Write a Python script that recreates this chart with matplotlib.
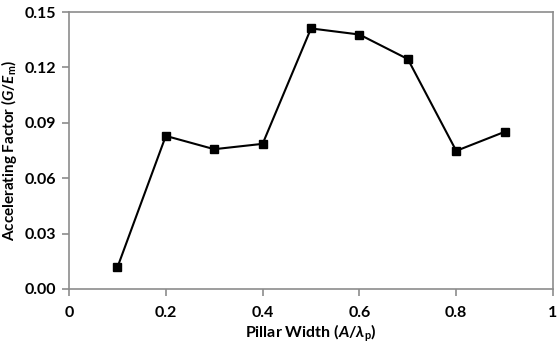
import matplotlib
matplotlib.use("Agg")
import matplotlib.pyplot as plt

# Pillar width (A / lambda_p) and accelerating factor (G / E_m)
pillar_width = [0.1, 0.2, 0.3, 0.4, 0.5, 0.6, 0.7, 0.8, 0.9]
accel_factor = [0.0117, 0.0829, 0.0757, 0.0786, 0.1411, 0.1378, 0.1245, 0.0748, 0.0851]

x_ticks = [0, 0.2, 0.4, 0.6, 0.8, 1.0]
x_tick_labels = ["0", "0.2", "0.4", "0.6", "0.8", "1"]
y_ticks = [0.00, 0.03, 0.06, 0.09, 0.12, 0.15]
y_tick_labels = ["0.00", "0.03", "0.06", "0.09", "0.12", "0.15"]

plt.rcParams["font.family"] = ["Lato", "DejaVu Sans"]
plt.rcParams["font.weight"] = "bold"
plt.rcParams["mathtext.fontset"] = "custom"
plt.rcParams["mathtext.rm"] = "Lato:bold"
plt.rcParams["mathtext.it"] = "Lato:italic:bold"
plt.rcParams["mathtext.bf"] = "Lato:bold"

fig = plt.figure(figsize=(5.57, 3.49), dpi=100)
ax = fig.add_axes([0.1239, 0.172, 0.869, 0.7936])

ax.plot(pillar_width, accel_factor, color="black", lw=1.5,
        marker="s", markersize=6.3, markerfacecolor="black", markeredgecolor="black")

ax.set_xlim(0, 1)
ax.set_ylim(0, 0.15)
ax.set_xticks(x_ticks)
ax.set_xticklabels(x_tick_labels)
ax.set_yticks(y_ticks)
ax.set_yticklabels(y_tick_labels)

gray = "#8c8c8c"
for s in ax.spines.values():
    s.set_color(gray)
    s.set_linewidth(1.2)
ax.tick_params(axis="both", direction="out", length=5, width=1.2, color=gray,
               labelsize=11.5, labelcolor="black")
ax.tick_params(axis="y", pad=4)
ax.tick_params(axis="x", pad=7)
for lbl in ax.get_xticklabels() + ax.get_yticklabels():
    lbl.set_fontweight("bold")

ax.set_xlabel(r"Pillar Width ($\mathit{A}$/$\lambda_{\rm p}$)", fontsize=11.5,
              fontweight="bold", labelpad=2)
ax.set_ylabel(r"Accelerating Factor ($\mathit{G}$/$\mathit{E}_{\rm m}$)", fontsize=11,
              fontweight="bold", labelpad=4)

fig.savefig("out.png", dpi=100)
